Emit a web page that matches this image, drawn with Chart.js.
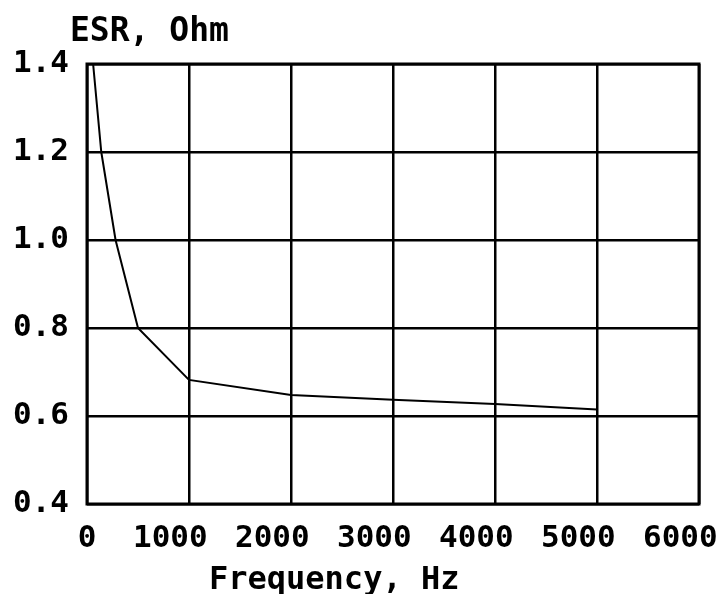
<!DOCTYPE html>
<html>
<head>
<meta charset="utf-8">
<script src="https://cdn.jsdelivr.net/npm/chart.js@4/dist/chart.umd.min.js"></script>
<style>
  html, body { margin: 0; padding: 0; background: #fff; }
  #wrap { width: 722px; height: 594px; }
</style>
</head>
<body>
<div id="wrap"><canvas id="esrChart" width="722" height="594"></canvas></div>
<script>
// ESR vs frequency
const freqHz = [60, 140, 280, 500, 1000, 2000, 3000, 4000, 5000];
const esrOhm = [1.4, 1.2, 1.0, 0.8, 0.682, 0.648, 0.637, 0.627, 0.615];

const xTicks = [0, 1000, 2000, 3000, 4000, 5000, 6000];
const yTicks = [0.4, 0.6, 0.8, 1.0, 1.2, 1.4];

const yTitle = 'ESR, Ohm';
const xTitle = 'Frequency, Hz';

const FONT = 'DejaVu Sans Mono';

// axis titles sit at fixed spots, not centered on the plot
const titlesPlugin = {
    id: 'axisTitles',
    afterDraw(chart) {
        const ctx = chart.ctx;
        ctx.save();
        ctx.fillStyle = '#000';
        ctx.textBaseline = 'alphabetic';
        ctx.textAlign = 'left';
        ctx.font = 'bold 33px "' + FONT + '"';
        ctx.fillText(yTitle, 70, 41);
        ctx.font = 'bold 32px "' + FONT + '"';
        ctx.fillText(xTitle, 209, 589);
        ctx.restore();
    }
};

// heavy frame round the plot area
const framePlugin = {
    id: 'frame',
    afterDatasetsDraw(chart) {
        const a = chart.chartArea;
        const ctx = chart.ctx;
        ctx.save();
        ctx.strokeStyle = '#000';
        ctx.lineWidth = 3;
        ctx.strokeRect(a.left, a.top, a.right - a.left, a.bottom - a.top);
        ctx.restore();
    }
};

new Chart('esrChart', {
    type: 'line',
    data: {
        datasets: [{
            data: freqHz.map((f, i) => ({ x: f, y: esrOhm[i] })),
            borderColor: '#000',
            borderWidth: 2,
            pointRadius: 0,
            tension: 0,
            fill: false
        }]
    },
    options: {
        responsive: false,
        animation: false,
        layout: { padding: { top: 64, right: 23, left: 0, bottom: 0 } },
        plugins: {
            legend: { display: false },
            tooltip: { enabled: false }
        },
        scales: {
            x: {
                type: 'linear',
                min: 0,
                max: 6000,
                afterBuildTicks: (scale) => { scale.ticks = xTicks.map(v => ({ value: v })); },
                afterFit: (scale) => {
                    scale.height = 90;
                    scale.paddingLeft = 0;
                    scale.paddingRight = 0;
                },
                grid: { color: '#000', lineWidth: 2.5, drawTicks: false },
                border: { display: false },
                ticks: {
                    color: '#000',
                    padding: 16,
                    maxRotation: 0,
                    autoSkip: false,
                    font: { family: FONT, size: 31, weight: 'bold' },
                    // trailing blanks push the 4-digit labels a bit left of their line
                    callback: (v) => v === 0 ? '0' : v + '  '
                }
            },
            y: {
                type: 'linear',
                min: 0.4,
                max: 1.4,
                afterBuildTicks: (scale) => { scale.ticks = yTicks.map(v => ({ value: v })); },
                afterFit: (scale) => { scale.width = 87; },
                grid: { color: '#000', lineWidth: 2.5, drawTicks: false },
                border: { display: false },
                ticks: {
                    color: '#000',
                    padding: 18,
                    autoSkip: false,
                    font: { family: FONT, size: 31, weight: 'bold' },
                    callback: (v) => Number(v).toFixed(1)
                }
            }
        }
    },
    plugins: [titlesPlugin, framePlugin]
});
</script>
</body>
</html>
